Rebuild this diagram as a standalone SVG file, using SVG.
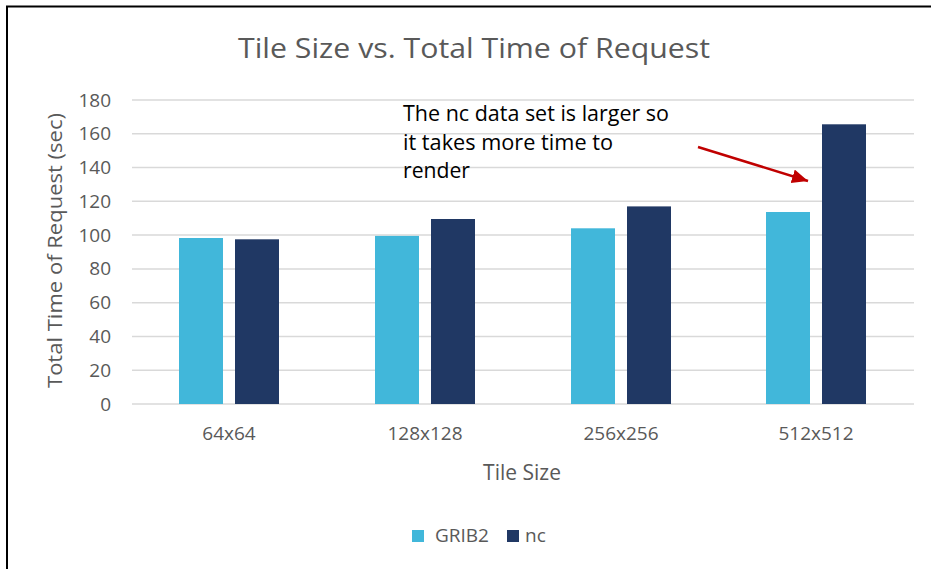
<svg xmlns="http://www.w3.org/2000/svg" width="931" height="569" viewBox="0 0 931 569">
<style>
.t{font-family:"Open Sans","Noto Sans","DejaVu Sans",sans-serif;fill:#595959}
.grid{stroke:#D9D9D9;stroke-width:1.5}
.g{fill:#41B7DA}
.n{fill:#203864}
.tick{font-size:19px;text-anchor:end}
.cat{font-size:19px;text-anchor:middle}
.ann{font-family:"Open Sans","Noto Sans","DejaVu Sans",sans-serif;font-size:21px;fill:#000}
</style>
<defs>
<marker id="ah" markerUnits="userSpaceOnUse" markerWidth="18" markerHeight="16" refX="16" refY="7" orient="auto">
<path d="M0,0 L16,7 L0,14 Z" fill="#C00000"/>
</marker>
</defs>
<rect width="931" height="569" fill="#fff"/>
<path d="M7,569 V6.5 H931" fill="none" stroke="#000" stroke-width="2"/>
<text class="t" x="474" y="58" font-size="28" text-anchor="middle" textLength="472" lengthAdjust="spacingAndGlyphs">Tile Size vs. Total Time of Request</text>
<g id="gridlines">
<line class="grid" x1="132" y1="100" x2="914" y2="100"/>
<line class="grid" x1="132" y1="133.8" x2="914" y2="133.8"/>
<line class="grid" x1="132" y1="167.6" x2="914" y2="167.6"/>
<line class="grid" x1="132" y1="201.3" x2="914" y2="201.3"/>
<line class="grid" x1="132" y1="235.1" x2="914" y2="235.1"/>
<line class="grid" x1="132" y1="268.9" x2="914" y2="268.9"/>
<line class="grid" x1="132" y1="302.7" x2="914" y2="302.7"/>
<line class="grid" x1="132" y1="336.4" x2="914" y2="336.4"/>
<line class="grid" x1="132" y1="370.2" x2="914" y2="370.2"/>
<line class="grid" x1="132" y1="404" x2="914" y2="404"/>
</g>
<g id="yticks" class="t tick">
<text x="111" y="106.5">180</text>
<text x="111" y="140.3">160</text>
<text x="111" y="174.1">140</text>
<text x="111" y="207.8">120</text>
<text x="111" y="241.6">100</text>
<text x="111" y="275.4">80</text>
<text x="111" y="309.2">60</text>
<text x="111" y="342.9">40</text>
<text x="111" y="376.7">20</text>
<text x="111" y="410.5">0</text>
</g>
<text class="t" transform="translate(62,250.5) rotate(-90)" font-size="20" text-anchor="middle" textLength="275" lengthAdjust="spacingAndGlyphs">Total Time of Request (sec)</text>
<g id="bars">
<rect class="g" x="179" y="238" width="44" height="166"/>
<rect class="n" x="235" y="239.3" width="44" height="164.7"/>
<rect class="g" x="375" y="235.9" width="44" height="168.1"/>
<rect class="n" x="431" y="219" width="44" height="185"/>
<rect class="g" x="571" y="228.3" width="44" height="175.7"/>
<rect class="n" x="627" y="206.4" width="44" height="197.6"/>
<rect class="g" x="766" y="212" width="44" height="192"/>
<rect class="n" x="822" y="124.3" width="44" height="279.7"/>
</g>
<g id="xcats" class="t cat">
<text x="229" y="440">64x64</text>
<text x="425" y="440">128x128</text>
<text x="621" y="440">256x256</text>
<text x="816" y="440">512x512</text>
</g>
<text class="t" x="522" y="480" font-size="21" text-anchor="middle">Tile Size</text>
<g id="annotation" class="ann">
<text x="403" y="121" textLength="266" lengthAdjust="spacingAndGlyphs">The nc data set is larger so</text>
<text x="403" y="150" textLength="210" lengthAdjust="spacingAndGlyphs">it takes more time to</text>
<text x="403" y="178" textLength="67" lengthAdjust="spacingAndGlyphs">render</text>
</g>
<g id="connectors">
<line x1="698" y1="147" x2="808" y2="181" stroke="#C00000" stroke-width="2.5" marker-end="url(#ah)"/>
</g>
<g id="legend">
<rect class="g" x="412" y="530" width="12" height="12"/>
<text class="t" x="435" y="542" font-size="19">GRIB2</text>
<rect class="n" x="507" y="530" width="12" height="12"/>
<text class="t" x="525" y="542" font-size="19">nc</text>
</g>
</svg>
